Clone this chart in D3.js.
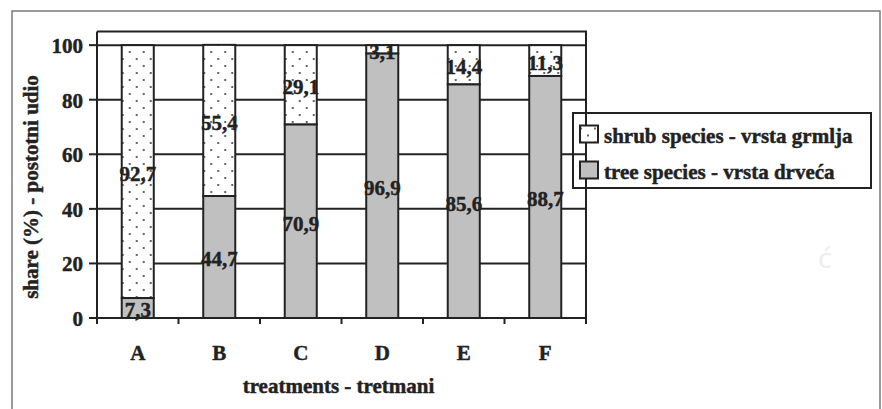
<!DOCTYPE html>
<html>
<head>
<meta charset="utf-8">
<script src="https://cdn.jsdelivr.net/npm/d3@7"></script>
<style>
  html, body { margin: 0; padding: 0; background: #fff; }
  svg { display: block; }
  text { font-family: "Liberation Serif", "Times New Roman", serif; font-weight: bold; fill: #222; stroke: #222; stroke-width: 0.45px; }
</style>
</head>
<body>
<svg id="chart" width="882" height="409"></svg>
<script>
const categories = ["A", "B", "C", "D", "E", "F"];
const treeValues = [7.3, 44.7, 70.9, 96.9, 85.6, 88.7];
const shrubValues = [92.7, 55.4, 29.1, 3.1, 14.4, 11.3];
const yTicks = [0, 20, 40, 60, 80, 100];
const seriesNames = ["shrub species - vrsta grmlja", "tree species - vrsta drveća"];
const xTitle = "treatments - tretmani";
const yTitle = "share (%) - postotni udio";

const svg = d3.select("#chart");
const plot = { left: 97, right: 586, top: 31.5, bottom: 318 };
const ink = "#222";
const grayFill = "#c0c0c0";

const fmt = d3.formatLocale({ decimal: ",", thousands: ".", grouping: [3], currency: ["", ""] }).format(".1f");

const x = d3.scaleBand().domain(categories).range([plot.left, plot.right])
  .paddingInner(0.607).paddingOuter(0.3035);
const y = d3.scaleLinear().domain([0, 105]).range([plot.bottom, plot.top]);

// dotted pattern
const defs = svg.append("defs");
const pat = defs.append("pattern").attr("id", "dots")
  .attr("patternUnits", "userSpaceOnUse").attr("width", 14).attr("height", 14);
pat.append("rect").attr("width", 14).attr("height", 14).attr("fill", "#fff");
pat.append("circle").attr("cx", 1).attr("cy", 3).attr("r", 1).attr("fill", "#333");
pat.append("circle").attr("cx", 8).attr("cy", 10).attr("r", 1).attr("fill", "#333");

// outer border
svg.append("rect").attr("x", 12).attr("y", 11).attr("width", 868).attr("height", 420)
  .attr("fill", "none").attr("stroke", "#7a7a7a").attr("stroke-width", 1.5);

// gridlines
svg.append("g").selectAll("line").data(yTicks).join("line")
  .attr("x1", plot.left).attr("x2", plot.right)
  .attr("y1", d => y(d)).attr("y2", d => y(d))
  .attr("stroke", ink).attr("stroke-width", 2);

// plot frame top & right
svg.append("path")
  .attr("d", `M${plot.left},${plot.top}H${plot.right}V${plot.bottom}`)
  .attr("fill", "none").attr("stroke", ink).attr("stroke-width", 2);

// bars
const barG = svg.append("g");
categories.forEach((c, i) => {
  const g = barG.append("g").attr("transform", `translate(${x(c)},0)`);
  const bw = x.bandwidth();
  const t = treeValues[i], s = shrubValues[i];
  g.append("rect").attr("x", 0).attr("width", bw)
    .attr("y", y(t + s)).attr("height", y(t) - y(t + s))
    .attr("fill", "url(#dots)").attr("stroke", ink).attr("stroke-width", 2);
  g.append("rect").attr("x", 0).attr("width", bw)
    .attr("y", y(t)).attr("height", y(0) - y(t))
    .attr("fill", grayFill).attr("stroke", ink).attr("stroke-width", 2);
});

// axes lines & ticks
const axG = svg.append("g").attr("stroke", ink).attr("stroke-width", 2);
axG.append("line").attr("x1", plot.left).attr("x2", plot.left).attr("y1", plot.top).attr("y2", plot.bottom);
axG.append("line").attr("x1", plot.left).attr("x2", plot.right).attr("y1", plot.bottom).attr("y2", plot.bottom);
axG.selectAll(".yt").data(yTicks).join("line")
  .attr("x1", plot.left - 8).attr("x2", plot.left)
  .attr("y1", d => y(d)).attr("y2", d => y(d));
const step = x.step();
const x0 = plot.left;
axG.selectAll(".xt").data(d3.range(categories.length + 1)).join("line")
  .attr("x1", d => x0 + d * step).attr("x2", d => x0 + d * step)
  .attr("y1", plot.bottom).attr("y2", plot.bottom + 6);

// y tick labels
svg.append("g").selectAll("text").data(yTicks).join("text")
  .attr("x", 83).attr("y", d => y(d) + 8)
  .attr("text-anchor", "end").attr("font-size", 21)
  .text(d => d);

// x tick labels
svg.append("g").selectAll("text").data(categories).join("text")
  .attr("x", d => x(d) + x.bandwidth() / 2).attr("y", 360)
  .attr("text-anchor", "middle").attr("font-size", 21)
  .text(d => d);

// axis titles
svg.append("text").attr("x", (plot.left + plot.right) / 2 - 3).attr("y", 393)
  .attr("text-anchor", "middle").attr("font-size", 21).text(xTitle);
svg.append("text").attr("transform", "translate(38,187) rotate(-90)")
  .attr("text-anchor", "middle").attr("font-size", 21).text(yTitle);

// data labels
const lblG = svg.append("g");
categories.forEach((c, i) => {
  const cx = x(c) + x.bandwidth() / 2;
  const t = treeValues[i], s = shrubValues[i];
  const minY = plot.top + 11;
  lblG.append("text").attr("x", cx).attr("y", Math.max(y(t / 2), minY)).attr("dy", "0.45em")
    .attr("text-anchor", "middle").attr("font-size", 21).text(fmt(t));
  lblG.append("text").attr("x", cx).attr("y", Math.max(y(t + s / 2), minY)).attr("dy", "0.45em")
    .attr("text-anchor", "middle").attr("font-size", 21).text(fmt(s));
});

// legend
const lg = svg.append("g");
lg.append("rect").attr("x", 573).attr("y", 113).attr("width", 298).attr("height", 75)
  .attr("fill", "none").attr("stroke", ink).attr("stroke-width", 2);
const legendFills = ["url(#dots)", grayFill];
const legendY = [125.5, 161.5];
seriesNames.forEach((name, i) => {
  const g = lg.append("g").attr("transform", `translate(580,${legendY[i]})`);
  g.append("rect").attr("x", 0).attr("y", 0).attr("width", 18).attr("height", 17)
    .attr("fill", legendFills[i]).attr("stroke", ink).attr("stroke-width", 2);
  lg.append("text").attr("x", 604).attr("y", legendY[i] + 17).attr("font-size", 21).text(name);
});

// faint stray glyph present in the source image
svg.append("text").attr("x", 818).attr("y", 268)
  .style("font-family", "'DejaVu Sans', sans-serif").style("font-weight", "normal")
  .style("fill", "#ededed").style("stroke", "none").attr("font-size", 26).text("ć");
</script>
</body>
</html>
